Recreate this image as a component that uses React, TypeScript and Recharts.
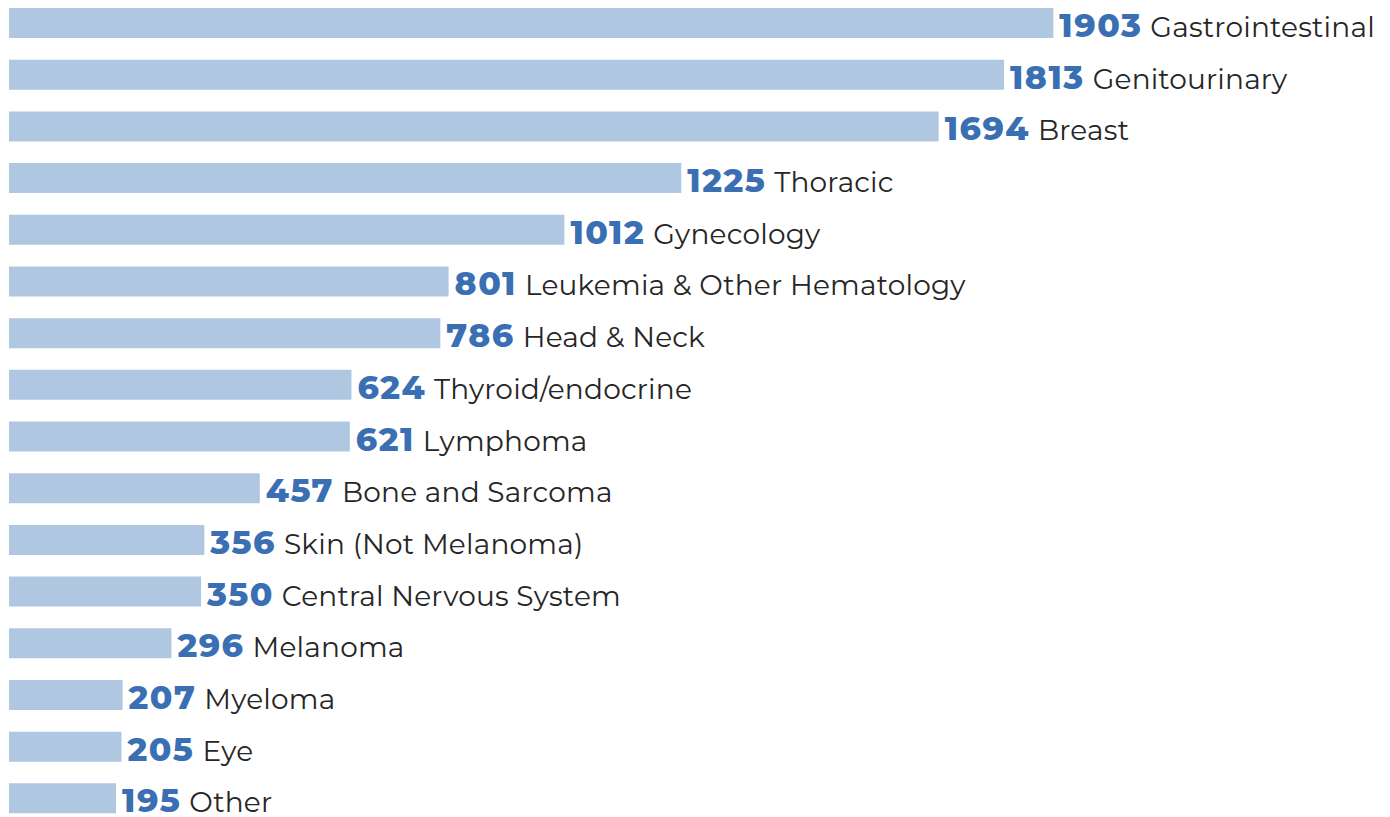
import React from "react";
import { BarChart, Bar, XAxis, YAxis, LabelList } from "recharts";

const categories = [
  "Gastrointestinal",
  "Genitourinary",
  "Breast",
  "Thoracic",
  "Gynecology",
  "Leukemia & Other Hematology",
  "Head & Neck",
  "Thyroid/endocrine",
  "Lymphoma",
  "Bone and Sarcoma",
  "Skin (Not Melanoma)",
  "Central Nervous System",
  "Melanoma",
  "Myeloma",
  "Eye",
  "Other",
];

const counts = [1903, 1813, 1694, 1225, 1012, 801, 786, 624, 621, 457, 356, 350, 296, 207, 205, 195];

const data = categories.map((name, i) => ({ name, count: counts[i] }));

const FONT = "Montserrat, 'Open Sans', sans-serif";

const renderLabel = (props: any) => {
  const { x, y, width, height, value, index } = props;
  return (
    <text x={x + width + 6} y={y + height / 2 + 14} fontFamily={FONT}>
      <tspan fontWeight={800} fontSize={33} letterSpacing={1.5} fill="#3a6fb3">
        {value}
      </tspan>
      <tspan dx={8} fontWeight={400} fontSize={28} letterSpacing={0.2} fill="#262626">
        {categories[index]}
      </tspan>
    </text>
  );
};

export default function App() {
  return (
    <div
      style={{
        position: "absolute",
        left: 0,
        top: 0,
        width: 1390,
        height: 817,
        overflow: "hidden",
        background: "#fff",
      }}
    >
      <div style={{ position: "absolute", left: 0, top: -3 }}>
        <BarChart
          width={1390}
          height={827}
          data={data}
          layout="vertical"
          margin={{ top: 0, right: 9, bottom: 0, left: 9 }}
        >
          <XAxis type="number" domain={[0, 2500]} hide />
          <YAxis type="category" dataKey="name" hide />
          <Bar dataKey="count" fill="#b0c7e1" barSize={30} isAnimationActive={false}>
            <LabelList dataKey="count" content={renderLabel} />
          </Bar>
        </BarChart>
      </div>
    </div>
  );
}
